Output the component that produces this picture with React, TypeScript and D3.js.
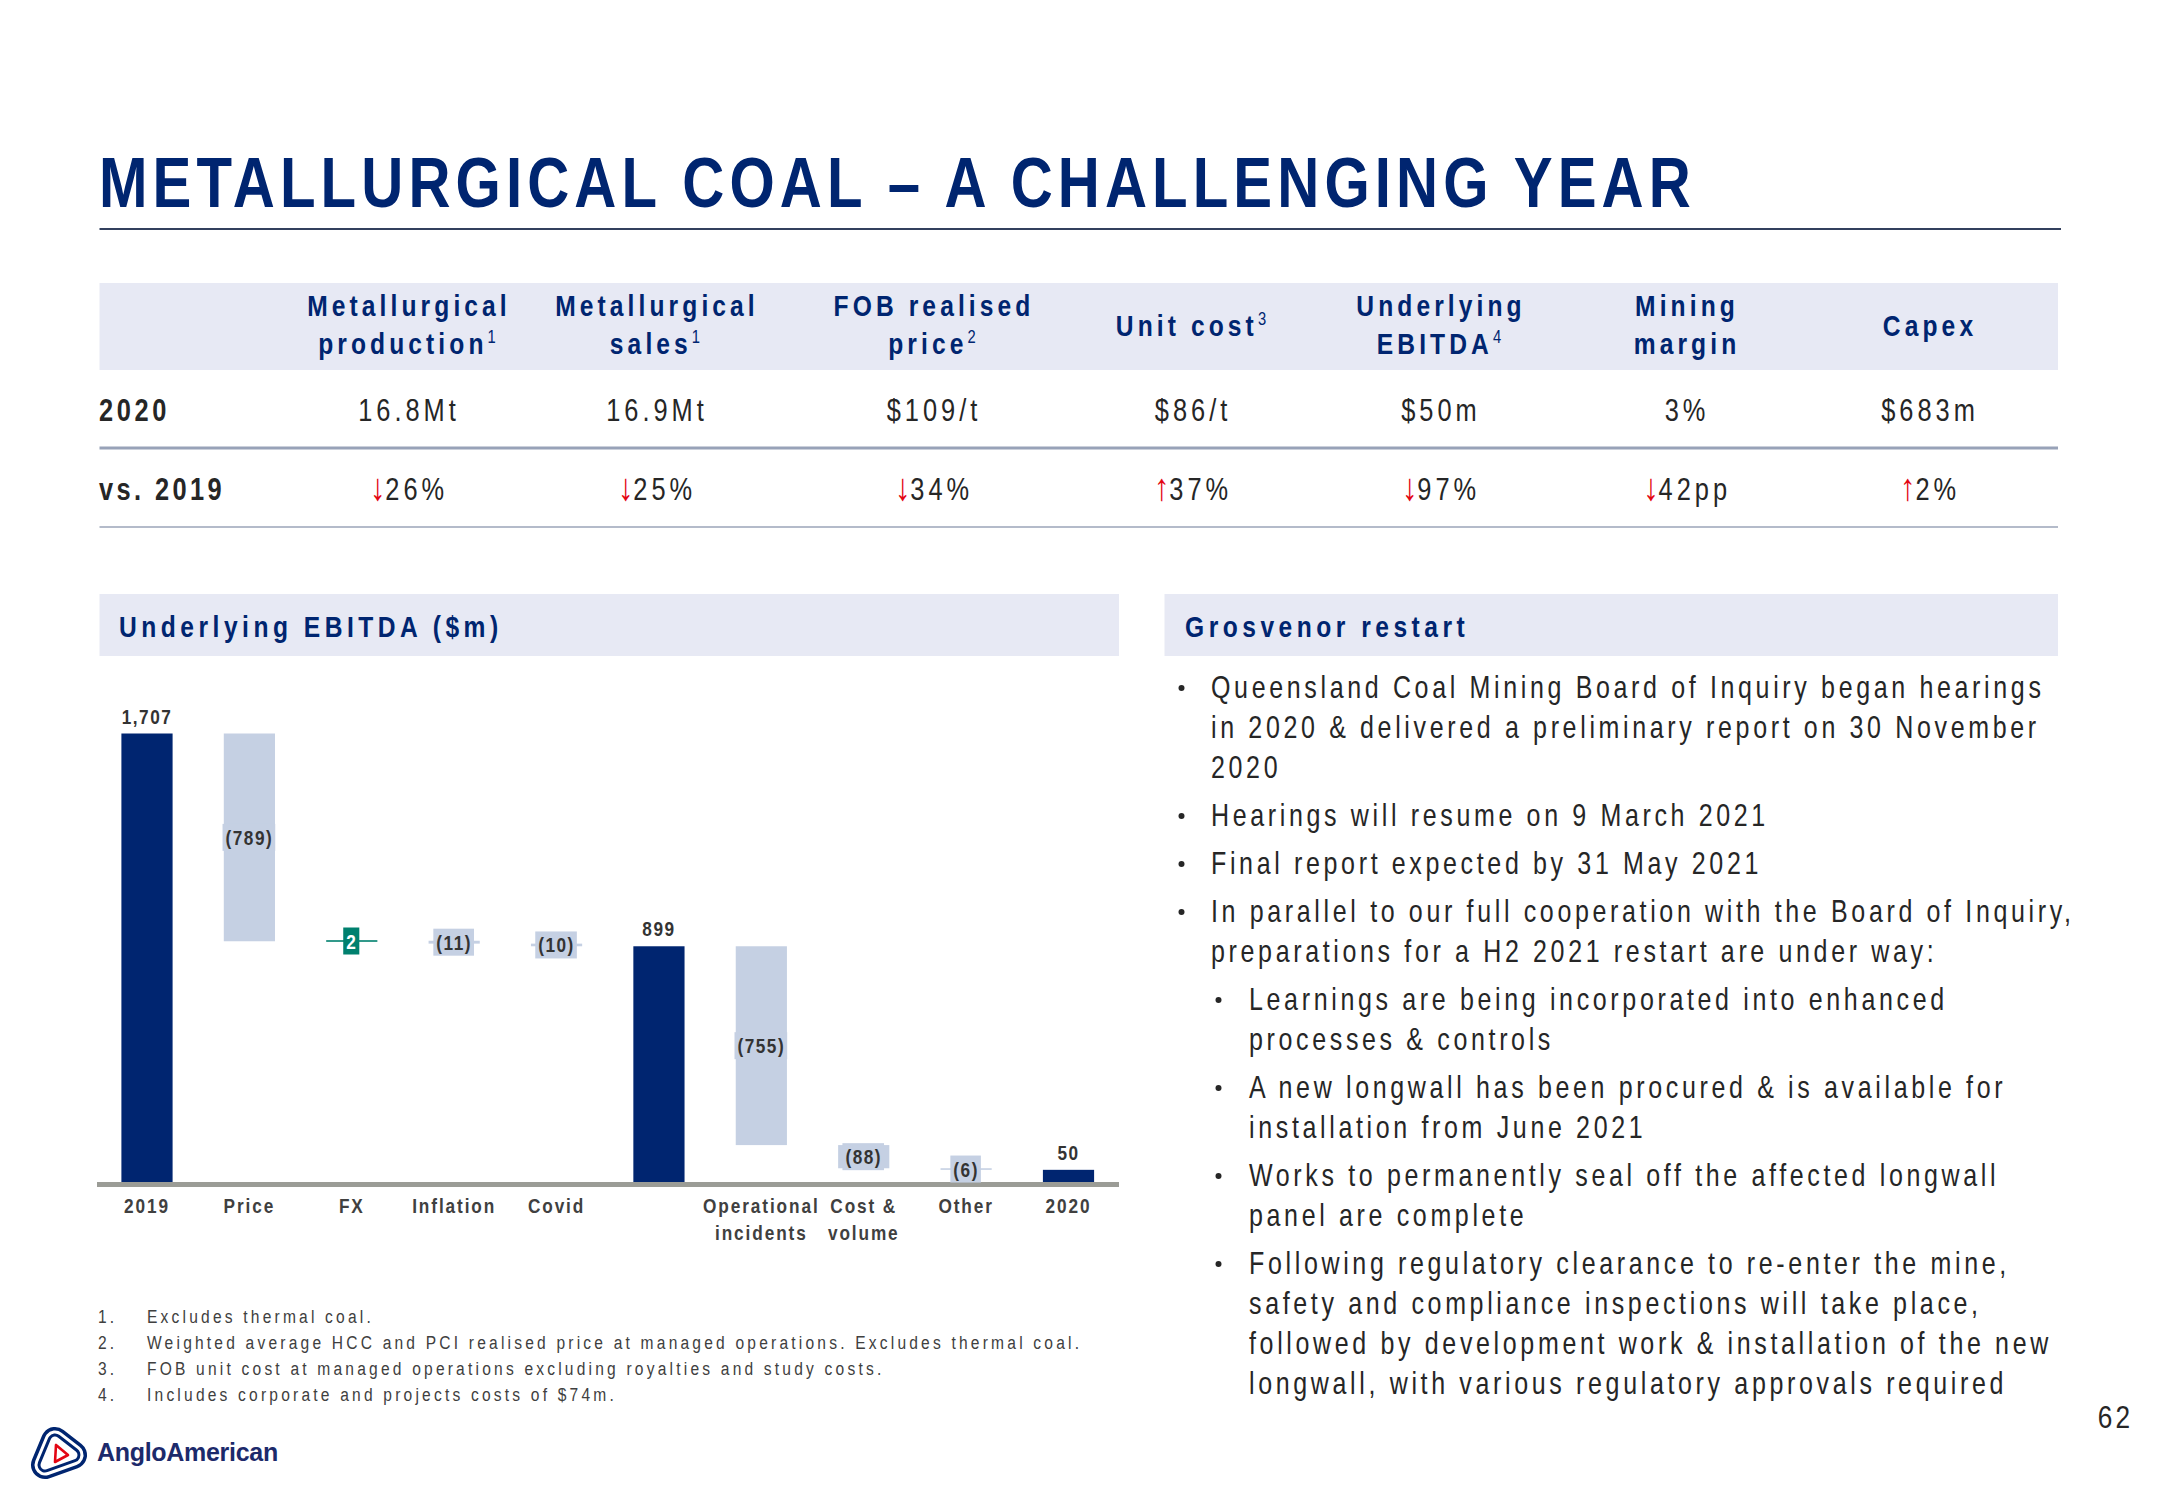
import React, { useEffect, useRef } from "react";
import * as d3 from "d3";

const W = 2166;
const H = 1500;
const FONT = "'Liberation Sans', Arial, sans-serif";
const SX = 0.82; // horizontal condensing (Arial Narrow look)
const NAVY = "#002570";
const BAND = "#e7e9f4";
const LIGHT = "#c5d0e3";
const TEAL = "#00806e";
const RED = "#e30613";
const TEXT = "#262626";

// ---------- data ----------
const titleText = "METALLURGICAL COAL \u2013 A CHALLENGING YEAR";

const headerLines = [
  ["Metallurgical", "production"],
  ["Metallurgical", "sales"],
  ["FOB realised", "price"],
  ["Unit cost"],
  ["Underlying", "EBITDA"],
  ["Mining", "margin"],
  ["Capex"],
];
const headerSup = ["1", "1", "2", "3", "4", "", ""];
const rowLabels = ["2020", "vs. 2019"];
const row2020 = ["16.8Mt", "16.9Mt", "$109/t", "$86/t", "$50m", "3%", "$683m"];
const rowVs2019 = ["26%", "25%", "34%", "37%", "97%", "42pp", "2%"];
const rowVsDir = ["down", "down", "down", "up", "down", "down", "up"];

const categoryLines = [
  ["2019"], ["Price"], ["FX"], ["Inflation"], ["Covid"], [],
  ["Operational", "incidents"], ["Cost &", "volume"], ["Other"], ["2020"],
];
const values = [1707, -789, 2, -11, -10, 899, -755, -88, -6, 50];
const isTotal = [true, false, false, false, false, true, false, false, false, true];

const bullets = [
  { level: 0, lines: ["Queensland Coal Mining Board of Inquiry began hearings", "in 2020 & delivered a preliminary report on 30 November", "2020"] },
  { level: 0, lines: ["Hearings will resume on 9 March 2021"] },
  { level: 0, lines: ["Final report expected by 31 May 2021"] },
  { level: 0, lines: ["In parallel to our full cooperation with the Board of Inquiry,", "preparations for a H2 2021 restart are under way:"] },
  { level: 1, lines: ["Learnings are being incorporated into enhanced", "processes & controls"] },
  { level: 1, lines: ["A new longwall has been procured & is available for", "installation from June 2021"] },
  { level: 1, lines: ["Works to permanently seal off the affected longwall", "panel are complete"] },
  { level: 1, lines: ["Following regulatory clearance to re-enter the mine,", "safety and compliance inspections will take place,", "followed by development work & installation of the new", "longwall, with various regulatory approvals required"] },
];

const footnotes = [
  "Excludes thermal coal.",
  "Weighted average HCC and PCI realised price at managed operations. Excludes thermal coal.",
  "FOB unit cost at managed operations excluding royalties and study costs.",
  "Includes corporate and projects costs of $74m.",
];

const pageNumber = "62";

// ---------- layout ----------
const colCenters = [409, 657, 934, 1193, 1441, 1687, 1930];

type TP = {
  x: number; y: number; size: number; weight?: string; ls?: number;
  anchor?: "start" | "middle" | "end"; fill?: string; children?: React.ReactNode;
};
function T({ x, y, size, weight = "normal", ls = 0, anchor = "start", fill = TEXT, children }: TP) {
  return (
    <text
      transform={`translate(${x},${y}) scale(${SX},1)`}
      fontFamily={FONT}
      fontSize={size}
      fontWeight={weight}
      letterSpacing={ls / SX}
      textAnchor={anchor}
      fill={fill}
    >
      {children}
    </text>
  );
}

function Waterfall() {
  const ref = useRef<SVGGElement>(null);
  useEffect(() => {
    const g = d3.select(ref.current);
    g.selectAll("*").remove();
    const n = values.length;
    let run = 0;
    const bars = values.map((v, i) => {
      let y0, y1;
      if (isTotal[i]) {
        y0 = 0; y1 = v; run = v;
      } else {
        y0 = run; y1 = run + v; run = y1;
      }
      return { i, v, lo: Math.min(y0, y1), hi: Math.max(y0, y1), total: isTotal[i] };
    });
    const x = d3.scaleBand<number>().domain(d3.range(n)).range([95.8, 1119.7]).paddingInner(0.5).paddingOuter(0.25);
    const y = d3.scaleLinear().domain([0, d3.max(bars, (b) => b.hi) as number]).range([1183, 733.5]);

    const fmtTotal = d3.format(",");
    const label = (b) => (b.total ? fmtTotal(b.v) : b.v < 0 ? `(${-b.v})` : `${b.v}`);

    g.selectAll("rect.bar")
      .data(bars)
      .join("rect")
      .attr("class", "bar")
      .attr("x", (b) => x(b.i) as number)
      .attr("width", x.bandwidth())
      .attr("y", (b) => {
        const h = y(b.lo) - y(b.hi);
        return h < 1.6 ? (y(b.lo) + y(b.hi)) / 2 - 0.8 : y(b.hi);
      })
      .attr("height", (b) => Math.max(1.6, y(b.lo) - y(b.hi)))
      .attr("fill", (b) => (b.total ? NAVY : b.v > 0 ? TEAL : LIGHT));

    g.append("rect").attr("x", 97).attr("y", 1182).attr("width", 1022).attr("height", 5).attr("fill", "#9b9c96");

    const addText = (sel, cx, cy, s, size, ls, fill) =>
      sel.append("text")
        .attr("transform", `translate(${cx},${cy}) scale(${SX},1)`)
        .attr("text-anchor", "middle")
        .attr("font-family", FONT)
        .attr("font-weight", "bold")
        .attr("font-size", size)
        .attr("letter-spacing", ls / SX)
        .attr("fill", fill)
        .text(s);

    bars.filter((b) => b.total).forEach((b) => {
      addText(g, (x(b.i) as number) + x.bandwidth() / 2, y(b.hi) - 10, label(b), 21, 1.5, "#333");
    });
    bars.filter((b) => !b.total).forEach((b) => {
      const cx = (x(b.i) as number) + x.bandwidth() / 2;
      const cy = (y(b.lo) + y(b.hi)) / 2;
      const lg = g.append("g");
      const rect = lg.append("rect");
      const t = addText(lg, cx, cy + 7.5, label(b), 21, 1.5, b.v > 0 ? "#ffffff" : "#333");
      const bb = (t.node() as SVGTextElement).getBBox();
      rect
        .attr("x", cx + bb.x * SX - 3)
        .attr("y", cy - 13.5)
        .attr("width", bb.width * SX + 5)
        .attr("height", 27)
        .attr("fill", b.v > 0 ? TEAL : LIGHT);
    });

    categoryLines.forEach((lines, i) => {
      lines.forEach((s, k) => {
        addText(g, (x(i) as number) + x.bandwidth() / 2, 1213 + k * 27, s, 21, 1.9, "#404040");
      });
    });
  }, []);
  return <g ref={ref} />;
}

function Logo() {
  const core = [[55, 1441], [45, 1465], [73, 1455]].map(([a, b]) => `${a},${b}`).join(" ");
  const red = [[56, 1445], [55, 1462], [68, 1455]].map(([a, b]) => `${a},${b}`).join(" ");
  const rings = [
    { w: 28, c: NAVY },
    { w: 21, c: "#fff" },
    { w: 15, c: NAVY },
    { w: 9, c: "#fff" },
  ];
  return (
    <g>
      {rings.map((r, i) => (
        <polygon key={i} points={core} fill={r.c} stroke={r.c} strokeWidth={r.w} strokeLinejoin="round" />
      ))}
      <polygon points={red} fill="#fff" stroke={RED} strokeWidth={2.6} strokeLinejoin="round" />
      <text x={97} y={1461} fontFamily={FONT} fontWeight="bold" fontSize={25} fill="#1c2a6b" letterSpacing={-0.3}>AngloAmerican</text>
    </g>
  );
}

export default function App() {
  let by = 698;
  const bulletEls: React.ReactNode[] = [];
  bullets.forEach((b, bi) => {
    if (bi > 0) by += 48;
    const bx = b.level === 0 ? 1178 : 1215;
    const tx = b.level === 0 ? 1211 : 1249;
    bulletEls.push(<circle key={`d${bi}`} cx={bx + 3.5} cy={by - 10} r={3} fill={TEXT} />);
    b.lines.forEach((ln, li) => {
      if (li > 0) by += 40;
      bulletEls.push(
        <T key={`b${bi}-${li}`} x={tx} y={by} size={30.5} ls={3.65}>{ln}</T>
      );
    });
  });

  return (
    <svg width={W} height={H} style={{ position: "absolute", left: 0, top: 0, display: "block", background: "#fff" }}>
      <rect x={0} y={0} width={W} height={H} fill="#fff" />
      {/* Title */}
      <T x={99} y={207} size={71} weight="bold" ls={5.1} fill={NAVY}>{titleText}</T>
      <line x1={99.5} x2={2061} y1={229} y2={229} stroke="#33405e" strokeWidth={2} />

      {/* Table */}
      <rect x={99.5} y={283} width={1958.5} height={87} fill={BAND} />
      {headerLines.map((lines, c) => {
        const ys = lines.length === 2 ? [316, 354] : [336];
        return lines.map((s, k) => (
          <T key={`h${c}-${k}`} x={colCenters[c]} y={ys[k]} anchor="middle" size={30} weight="bold" ls={4.1} fill={NAVY}>
            {s}
            {k === lines.length - 1 && headerSup[c] ? (
              <tspan fontSize={18} dy={-11} fontWeight="normal">{headerSup[c]}</tspan>
            ) : null}
          </T>
        ));
      })}
      <T x={99} y={421} size={31} weight="bold" ls={3.6}>{rowLabels[0]}</T>
      <T x={99} y={500} size={31} weight="bold" ls={3.4}>{rowLabels[1]}</T>
      {row2020.map((s, c) => (
        <T key={`r1-${c}`} x={colCenters[c]} y={421} anchor="middle" size={31} ls={4}>{s}</T>
      ))}
      {rowVs2019.map((s, c) => (
        <T key={`r2-${c}`} x={colCenters[c]} y={500} anchor="middle" size={31} ls={4}>
          <tspan fill={RED} fontSize={38} letterSpacing={0}>{rowVsDir[c] === "down" ? "\u2193" : "\u2191"}</tspan>
          {s}
        </T>
      ))}
      <line x1={99.5} x2={2058} y1={448} y2={448} stroke="#98a2b8" strokeWidth={3} />
      <line x1={99.5} x2={2058} y1={527} y2={527} stroke="#b4bbca" strokeWidth={2} />

      {/* Left panel */}
      <rect x={99.5} y={594} width={1019.5} height={62} fill={BAND} />
      <T x={119} y={637} size={30} weight="bold" ls={4.5} fill={NAVY}>Underlying EBITDA ($m)</T>
      <Waterfall />

      {/* Right panel */}
      <rect x={1164.5} y={594} width={893.5} height={62} fill={BAND} />
      <T x={1185} y={637} size={30} weight="bold" ls={4.5} fill={NAVY}>Grosvenor restart</T>
      {bulletEls}

      {/* Footnotes */}
      {footnotes.map((s, i) => (
        <g key={`f${i}`}>
          <T x={98} y={1323 + i * 26} size={19} ls={3.2} fill="#404040">{`${i + 1}.`}</T>
          <T x={147} y={1323 + i * 26} size={19} ls={3.2} fill="#404040">{s}</T>
        </g>
      ))}

      <Logo />
      <T x={2133} y={1428} anchor="end" size={32} ls={3} fill={TEXT}>{pageNumber}</T>
    </svg>
  );
}
